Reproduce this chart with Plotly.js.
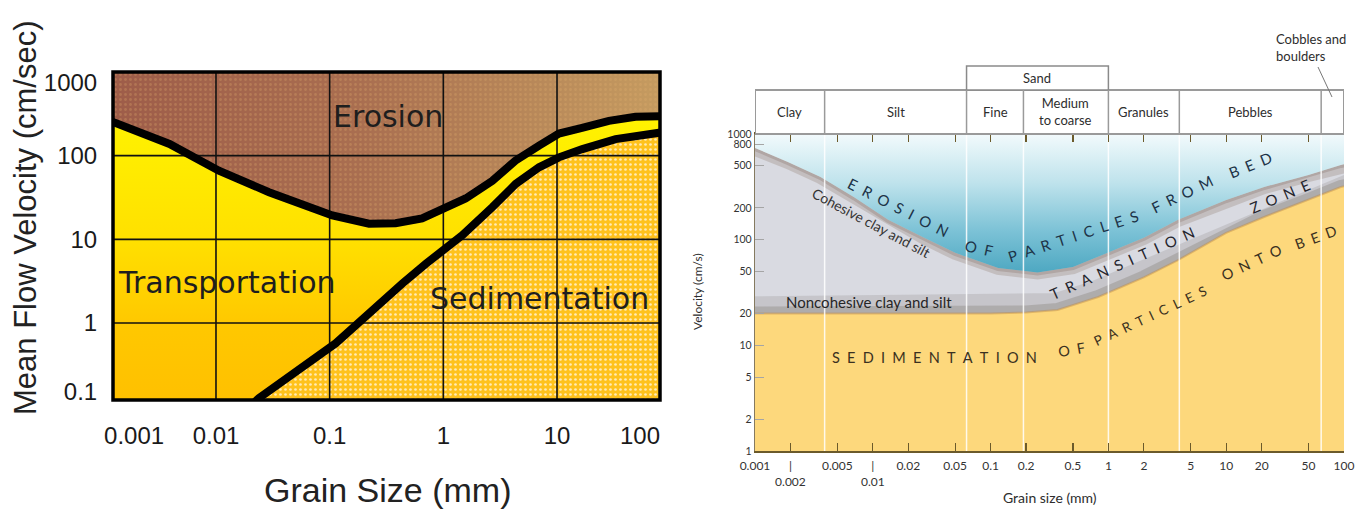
<!DOCTYPE html>
<html><head><meta charset="utf-8">
<script src="https://cdn.plot.ly/plotly-3.0.1.min.js"></script>
<style>html,body{margin:0;padding:0;background:#fff;}#chart{width:1368px;height:509px;}</style>
</head><body><div id="chart"></div>
<script>
// ---------------- LEFT DIAGRAM: grain size (mm) vs mean flow velocity (cm/s) ----------------
const leftErosionGrain = [0.0006, 0.00129, 0.0039, 0.0106, 0.0293, 0.1056, 0.222, 0.29, 0.38, 0.65, 1.01, 1.57, 2.7, 4.3, 6.95, 10.4, 16.6, 28.6, 49, 81, 200];
const leftErosionVel   = [370, 249, 138, 66, 36.6, 19.3, 15.4, 15.5, 15.6, 17.8, 24, 30.8, 50, 87, 132, 184, 215, 261, 291, 299, 305];
const leftSedGrain = [0.01, 0.0239, 0.113, 0.291, 0.436, 0.70, 1.47, 2.7, 4.33, 6.95, 10.4, 16.7, 32.8, 81.5, 200];
const leftSedVel   = [0.04, 0.127, 0.573, 1.88, 2.97, 5.1, 11.2, 24.3, 46, 72.6, 95.5, 120, 158, 189, 195];
const leftGridGrain = [0.01, 0.1, 1, 10];
const leftGridVel = [1, 10, 100];
const leftXTickText = ['0.001', '0.01', '0.1', '1', '10', '100'];
const leftYTickText = ['0.1', '1', '10', '100', '1000'];
const leftRegionNames = ['Erosion', 'Transportation', 'Sedimentation'];

// ---------------- RIGHT DIAGRAM ----------------
const rightErosionGrain = [0.0006, 0.001, 0.0019, 0.0036, 0.007, 0.0135, 0.027, 0.05, 0.116, 0.25, 0.5, 0.9, 2, 3.9, 10, 21, 50, 94, 200];
const rightErosionVel   = [900, 738, 544, 392, 250, 154, 105, 75, 54, 49, 55, 72, 104, 154, 237, 315, 410, 509, 600];
const rightSedGrain = [0.0006, 0.001, 0.01, 0.1, 0.2, 0.37, 0.82, 2, 3.9, 10, 21, 50, 94, 200];
const rightSedVel   = [20, 20, 20, 20, 20.5, 21.6, 28.7, 44, 64, 116, 164, 237, 315, 380];
const classBounds = [0.001, 0.0039, 0.0625, 0.19, 1, 4, 64, 100];
const classNames  = ['Clay', 'Silt', 'Fine', 'Medium<br>to coarse', 'Granules', 'Pebbles', ''];
const sandBounds = [0.0625, 1];
const rightXTicks = [0.001, 0.002, 0.005, 0.01, 0.02, 0.05, 0.1, 0.2, 0.5, 1, 2, 5, 10, 20, 50, 100];
const rightXTickText = ['0.001', '|<br>0.002', '0.005', '|<br>0.01', '0.02', '0.05', '0.1', '0.2', '0.5', '1', '2', '5', '10', '20', '50', '100'];
const rightYTicks = [1, 2, 5, 10, 20, 50, 100, 200, 500, 800, 1000];

// ---------------- geometry helpers ----------------
const W = 1368, H = 509;
const px = x => x / W, py = y => 1 - y / H;
const lg = v => Math.log10(v);
const VEL_LOW = 0.04, VEL_TOP = 1200;      // polygon closure beyond the visible ranges
const R_VEL_LOW = 0.8;
const rev = a => a.slice().reverse();
const first = a => a[0], last = a => a[a.length - 1];

const traces = [];
const base = {mode: 'lines', hoverinfo: 'skip', showlegend: false};

// Left: transportation (between curves, gradient yellow -> orange)
traces.push(Object.assign({}, base, {
  xaxis: 'x', yaxis: 'y',
  x: leftErosionGrain.concat(rev(leftSedGrain), [first(leftErosionGrain)]),
  y: leftErosionVel.concat(rev(leftSedVel), [VEL_LOW]),
  fill: 'toself', line: {width: 0},
  fillgradient: {type: 'vertical', colorscale: [[0, '#ffbc00'], [0.35, '#ffc800'], [0.6, '#ffe000'], [1, '#fff400']]}
}));
// Left: erosion region (brown -> tan)
traces.push(Object.assign({}, base, {
  xaxis: 'x', yaxis: 'y',
  x: leftErosionGrain.concat([last(leftErosionGrain), first(leftErosionGrain)]),
  y: leftErosionVel.concat([VEL_TOP, VEL_TOP]),
  fill: 'toself', line: {width: 0},
  fillgradient: {type: 'horizontal', colorscale: [[0, '#9c5a48'], [0.45, '#a96e50'], [0.75, '#b98a5a'], [1, '#caa262']]}
}));
traces.push(Object.assign({}, base, {
  xaxis: 'x', yaxis: 'y',
  x: leftErosionGrain.concat([last(leftErosionGrain), first(leftErosionGrain)]),
  y: leftErosionVel.concat([VEL_TOP, VEL_TOP]),
  fill: 'toself', line: {width: 0}, fillcolor: 'rgba(0,0,0,0)',
  fillpattern: {shape: '.', fgcolor: 'rgba(225,175,110,0.55)', size: 5, solidity: 0.25, fillmode: 'overlay'}
}));
// Left: sedimentation region
traces.push(Object.assign({}, base, {
  xaxis: 'x', yaxis: 'y',
  x: leftSedGrain.concat([last(leftSedGrain), first(leftSedGrain)]),
  y: leftSedVel.concat([VEL_LOW, VEL_LOW]),
  fill: 'toself', line: {width: 0}, fillcolor: '#ffc21c',
  fillpattern: {shape: '.', fgcolor: 'rgba(255,240,200,0.9)', bgcolor: '#ffc21c', size: 5, solidity: 0.22}
}));
// Left: grid lines (drawn above the fills)
{
  const gx = [], gy = [];
  leftGridGrain.forEach(g => { gx.push(g, g, null); gy.push(VEL_LOW, VEL_TOP, null); });
  leftGridVel.forEach(v => { gx.push(first(leftErosionGrain), last(leftErosionGrain), null); gy.push(v, v, null); });
  traces.push(Object.assign({}, base, {xaxis: 'x', yaxis: 'y', x: gx, y: gy, line: {color: '#111', width: 1.6}}));
}
// Left: threshold curves
traces.push(Object.assign({}, base, {xaxis: 'x', yaxis: 'y', x: leftErosionGrain, y: leftErosionVel, line: {color: '#000', width: 8}}));
traces.push(Object.assign({}, base, {xaxis: 'x', yaxis: 'y', x: leftSedGrain, y: leftSedVel, line: {color: '#000', width: 8}}));

// Right: transition zone (everything below erosion curve, grey)
traces.push(Object.assign({}, base, {
  xaxis: 'x2', yaxis: 'y2',
  x: rightErosionGrain.concat([last(rightErosionGrain), first(rightErosionGrain)]),
  y: rightErosionVel.concat([R_VEL_LOW, R_VEL_LOW]),
  fill: 'toself', line: {width: 0}, fillcolor: '#d9dae1'
}));
// darker shading along the lower edge of the transition zone
traces.push(Object.assign({}, base, {xaxis: 'x2', yaxis: 'y2', x: rightSedGrain, y: rightSedVel, line: {color: 'rgba(110,104,98,0.18)', width: 34}}));
traces.push(Object.assign({}, base, {xaxis: 'x2', yaxis: 'y2', x: rightSedGrain, y: rightSedVel, line: {color: 'rgba(110,100,90,0.26)', width: 14}}));
// Right: sedimentation (yellow)
traces.push(Object.assign({}, base, {
  xaxis: 'x2', yaxis: 'y2',
  x: rightSedGrain.concat([last(rightSedGrain), first(rightSedGrain)]),
  y: rightSedVel.concat([R_VEL_LOW, R_VEL_LOW]),
  fill: 'toself', line: {width: 0}, fillcolor: '#fdd87c'
}));
traces.push(Object.assign({}, base, {xaxis: 'x2', yaxis: 'y2', x: rightSedGrain, y: rightSedVel, line: {color: 'rgba(190,140,70,0.45)', width: 2}}));
// darker edge under erosion curve
traces.push(Object.assign({}, base, {xaxis: 'x2', yaxis: 'y2', x: rightErosionGrain, y: rightErosionVel, line: {color: 'rgba(140,118,105,0.28)', width: 14}}));
traces.push(Object.assign({}, base, {xaxis: 'x2', yaxis: 'y2', x: rightErosionGrain, y: rightErosionVel, line: {color: 'rgba(130,105,95,0.28)', width: 6}}));
// Right: erosion (blue gradient)
traces.push(Object.assign({}, base, {
  xaxis: 'x2', yaxis: 'y2',
  x: rightErosionGrain.concat([last(rightErosionGrain), first(rightErosionGrain)]),
  y: rightErosionVel.concat([1000, 1000]),
  fill: 'toself', line: {width: 0},
  fillgradient: {type: 'vertical', colorscale: [[0, '#4ea8c2'], [0.3, '#7cc2d6'], [0.65, '#bfe3ec'], [1, '#f2fafc']]}
}));
// Right: white class-boundary lines
{
  const wx = [], wy = [];
  classBounds.slice(1, -1).forEach(b => { wx.push(b, b, null); wy.push(1, 1000, null); });
  traces.push(Object.assign({}, base, {xaxis: 'x2', yaxis: 'y2', x: wx, y: wy, line: {color: 'rgba(255,255,255,0.85)', width: 1.5}}));
}

// ---------------- shapes (on log axes Plotly v3 shapes take data values) ----------------
const shapes = [
  {type: 'rect', xref: 'x domain', yref: 'y domain', x0: 0, x1: 1, y0: 0, y1: 1, line: {color: '#000', width: 3.5}, layer: 'above'},
  {type: 'rect', xref: 'x2', yref: 'paper', x0: first(classBounds), x1: last(classBounds), y0: py(134), y1: py(90), line: {color: '#9a9a9a', width: 2}, fillcolor: '#fff', layer: 'above'},
  {type: 'rect', xref: 'x2', yref: 'paper', x0: sandBounds[0], x1: sandBounds[1], y0: py(90), y1: py(66), line: {color: '#8a8a8a', width: 1.5}, fillcolor: '#fff', layer: 'above'},
  {type: 'line', xref: 'paper', yref: 'paper', x0: px(1318), y0: py(67), x1: px(1332), y1: py(97), line: {color: '#777', width: 1}}
];
classBounds.slice(1, -1).forEach(b => shapes.push({type: 'line', xref: 'x2', yref: 'paper', x0: b, x1: b, y0: py(134), y1: py(90), line: {color: '#9a9a9a', width: 1.5}, layer: 'above'}));

// ---------------- annotations ----------------
const ann = [];
const C = {showarrow: false, xanchor: 'center', yanchor: 'middle'};
const A = o => Object.assign({}, C, o);
const leftFont = s => ({family: 'DejaVu Sans, sans-serif', size: s, color: '#1e1e1e'});
ann.push(A({xref: 'x', yref: 'y', x: -0.484, y: 2.464, text: leftRegionNames[0], font: leftFont(30)}));
ann.push(A({xref: 'x', yref: 'y', x: -1.9, y: 0.488, text: leftRegionNames[1], font: leftFont(30)}));
ann.push(A({xref: 'x', yref: 'y', x: 0.844, y: 0.298, text: leftRegionNames[2], font: leftFont(30)}));
ann.push(A({xref: 'paper', yref: 'paper', x: px(25), y: py(218), text: 'Mean Flow Velocity (cm/sec)', textangle: -90, font: {family: 'Liberation Sans, Arial, sans-serif', size: 31, color: '#222'}}));
ann.push(A({xref: 'paper', yref: 'paper', x: px(387), y: py(490), text: 'Grain Size (mm)', font: {family: 'Liberation Sans, Arial, sans-serif', size: 34, color: '#222'}}));

const rf = (s, c) => ({family: 'Lato, sans-serif', size: s, color: c || '#2d2d2d'});
for (let i = 0; i < classNames.length; i++) {
  if (!classNames[i]) continue;
  ann.push(A({xref: 'x2', yref: 'paper', x: (lg(classBounds[i]) + lg(classBounds[i + 1])) / 2, y: py(112), text: classNames[i], font: rf(13)}));
}
ann.push(A({xref: 'x2', yref: 'paper', x: (lg(sandBounds[0]) + lg(sandBounds[1])) / 2, y: py(78), text: 'Sand', font: rf(13)}));
ann.push(A({xref: 'paper', yref: 'paper', x: px(1274), y: py(48), xanchor: 'left', align: 'left', text: 'Cobbles and<br>boulders', font: rf(13)}));
ann.push(A({xref: 'paper', yref: 'paper', x: px(697), y: py(292), text: 'Velocity (cm/s)', textangle: -90, font: rf(12)}));
ann.push(A({xref: 'paper', yref: 'paper', x: px(1050), y: py(497), text: 'Grain size (mm)', font: rf(14)}));
ann.push(A({xref: 'paper', yref: 'paper', x: px(871), y: py(222), text: 'Cohesive clay and silt', textangle: 28, font: rf(14, '#333')}));
ann.push(A({xref: 'paper', yref: 'paper', x: px(869), y: py(302), text: 'Noncohesive clay and silt', font: rf(15, '#262626')}));

const sp = w => w.split('').join('\u2002');
const words = [
  ['EROSION', 898, 207, 27, '#1d3347', 15], ['OF', 979, 248, 12, '#1d3347', 15], ['PARTICLES', 1073, 236, -18, '#1d3347', 15],
  ['FROM', 1182, 194, -26, '#1d3347', 15], ['BED', 1250, 165, -22, '#1d3347', 15],
  ['TRANSITION', 1122, 263, -24, '#26262e', 15], ['ZONE', 1280, 196, -23, '#26262e', 15],
  ['SEDIMENTATION', 934, 357, 0, '#3a3020', 14.5], ['OF', 1071, 349, -10, '#3a3020', 14.5], ['PARTICLES', 1150, 316, -25, '#3a3020', 13.5],
  ['ONTO', 1251, 262, -25, '#3a3020', 14.5], ['BED', 1315, 237, -20, '#3a3020', 14.5]
];
words.forEach(w => ann.push(A({xref: 'paper', yref: 'paper', x: px(w[1]), y: py(w[2]), text: sp(w[0]), textangle: w[3], font: rf(w[5], w[4])})));

// ---------------- layout ----------------
const layout = {
  width: W, height: H, margin: {l: 0, r: 0, t: 0, b: 0},
  paper_bgcolor: '#fff', plot_bgcolor: 'rgba(0,0,0,0)', showlegend: false,
  xaxis: {
    type: 'log', range: [-2.906, 1.906], domain: [px(113), px(660)], anchor: 'y',
    tickvals: [Math.pow(10, -2.72), 0.01, 0.1, 1, 10, Math.pow(10, 1.73)], ticktext: leftXTickText,
    ticks: 'outside', ticklen: 14, tickcolor: 'rgba(0,0,0,0)', showgrid: false, zeroline: false, showline: false,
    tickfont: {family: 'Liberation Sans, Arial, sans-serif', size: 24, color: '#1a1a1a'}
  },
  yaxis: {
    type: 'log', range: [-0.92, 3.0], domain: [py(400), py(72)], anchor: 'x',
    tickvals: [Math.pow(10, -0.82), 1, 10, 100, Math.pow(10, 2.87)], ticktext: leftYTickText,
    ticks: 'outside', ticklen: 10, tickcolor: 'rgba(0,0,0,0)', showgrid: false, zeroline: false, showline: false,
    tickfont: {family: 'Liberation Sans, Arial, sans-serif', size: 24, color: '#1a1a1a'}
  },
  xaxis2: {
    type: 'log', range: [-3, 2], domain: [px(755), px(1344)], anchor: 'y2',
    tickvals: rightXTicks, ticktext: rightXTickText,
    ticks: 'inside', ticklen: 8, tickcolor: '#6b5a2b', tickwidth: 1.2, ticklabelstandoff: 3,
    showline: true, linecolor: '#6b5a2b', linewidth: 2, mirror: 'ticks',
    showgrid: false, zeroline: false, tickfont: rf(12, '#333')
  },
  yaxis2: {
    type: 'log', range: [0, 3], domain: [py(451), py(134)], anchor: 'x2',
    tickvals: rightYTicks, ticktext: rightYTicks.map(String),
    ticks: 'inside', ticklen: 9, tickcolor: '#a5a5a5', tickwidth: 1.2,
    showline: true, linecolor: '#857a60', linewidth: 1.2,
    showgrid: false, zeroline: false, tickfont: rf(10.5, '#333')
  },
  shapes: shapes, annotations: ann
};

Plotly.newPlot('chart', traces, layout, {displayModeBar: false, staticPlot: true});
</script></body></html>
